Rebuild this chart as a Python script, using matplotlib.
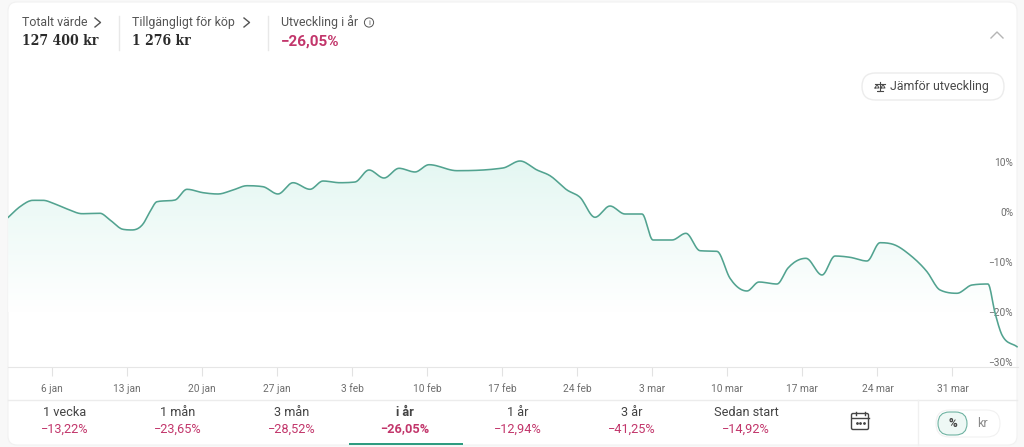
import numpy as np
import matplotlib
matplotlib.use("Agg")
import matplotlib.pyplot as plt
from matplotlib.patches import FancyBboxPatch, Rectangle, Polygon, Circle

plt.rcParams['font.family'] = ['Roboto', 'DejaVu Sans']

# ---- data ----
days = [-4.08,-2.99,-1.77,-0.84,0.28,1.49,2.8,4.48,5.41,6.62,7.46,8.49,9.14,9.79,11.47,12.59,14.09,15.49,
        16.88,18.19,19.68,21.08,22.48,24.07,25.28,26.87,28.26,29.57,30.97,32.37,33.86,35.17,37.78,42.07,
        43.66,45.24,46.46,48.04,49.25,50.65,52.05,53.45,55.04,56.06,57.84,59.14,60.45,62.03,63.25,64.83,
        65.95,67.63,68.66,70.34,71.83,73.04,74.44,76.03,77.24,78.45,80.04,81.62,82.84,84.42,85.82,87.31,
        87.97,88.62,90.02]
values = [-1.06,1.06,2.34,2.34,1.6,0.54,-0.34,-0.26,-1.6,-3.47,-3.6,-2.4,0.06,2.06,2.4,4.55,3.87,3.61,
          4.41,5.27,5.07,3.61,5.87,4.55,6.21,5.87,6.01,8.42,6.81,8.76,8.02,9.48,8.28,8.82,
          10.22,8.42,7.27,4.41,2.95,-1.06,1.2,-0.4,-0.4,-5.61,-5.61,-4.27,-7.76,-7.88,-13.29,-15.83,
          -14.03,-14.43,-11.22,-9.28,-12.63,-8.82,-9.08,-9.82,-6.15,-6.47,-8.62,-11.96,-15.63,-16.29,-14.63,-14.43,
          -20.24,-24.65,-27.0]
x_tick_pos = [0,7,14,21,28,35,42,49,56,63,70,77,84]
x_tick_labels = ['6 jan','13 jan','20 jan','27 jan','3 feb','10 feb','17 feb','24 feb','3 mar','10 mar','17 mar','24 mar','31 mar']
y_tick_pos = [10,0,-10,-20,-30]
y_tick_labels = ['10%','0%','−10%','−20%','−30%']
tab_names = ['1 vecka','1 mån','3 mån','i år','1 år','3 år','Sedan start']
tab_values = ['−13,22%','−23,65%','−28,52%','−26,05%','−12,94%','−41,25%','−14,92%']
total_value = '127 400 kr'
available = '1 276 kr'
ytd = '−26,05%'

GREEN = '#52A390'
RED = '#C2366B'
TXT = '#3c3c3c'
GREY = '#6e6e6e'

def smooth(x, y, n=12):
    """Cubic Hermite drawing curve through the read points."""
    x = np.asarray(x, float); y = np.asarray(y, float)
    h = np.diff(x); s = np.diff(y) / h
    m = np.zeros_like(x)
    m[0], m[-1] = s[0], s[-1]
    for i in range(1, len(x) - 1):
        if s[i-1] * s[i] > 0:
            w = (h[i] * s[i-1] + h[i-1] * s[i]) / (h[i-1] + h[i])
            m[i] = np.sign(w) * min(abs(w), 2.5 * min(abs(s[i-1]), abs(s[i])))
    xs, ys = [], []
    for i in range(len(h)):
        t = np.linspace(0, 1, n, endpoint=False)
        a = (2*t**3 - 3*t**2 + 1); b = (t**3 - 2*t**2 + t); c = (-2*t**3 + 3*t**2); d = (t**3 - t**2)
        xs.append(x[i] + t*h[i])
        ys.append(a*y[i] + b*h[i]*m[i] + c*y[i+1] + d*h[i]*m[i+1])
    xs.append(x[-1:]); ys.append(y[-1:])
    return np.concatenate(xs), np.concatenate(ys)

fig = plt.figure(figsize=(10.24, 4.47), dpi=100, facecolor='#f8f8f8')

# page chrome in pixel coordinates
bg = fig.add_axes([0, 0, 1, 1], zorder=0)
bg.set_xlim(0, 1024); bg.set_ylim(447, 0); bg.axis('off')
bg.add_patch(FancyBboxPatch((8, 2), 1009, 443, boxstyle='round,pad=0,rounding_size=9', fc='white', ec='#f1f1f1', lw=0.8))

def T(x, y, s, size=9.2, color=TXT, ha='left', weight='normal', **kw):
    bg.text(x, y, s, fontsize=size, color=color, ha=ha, va='center', fontweight=weight, **kw)

# header
T(22, 22.5, 'Totalt värde', size=8.9, color='#555555')
T(132, 22.5, 'Tillgängligt för köp', size=8.9, color='#555555')
T(281, 22.5, 'Utveckling i år', size=8.9, color='#555555')
T(22, 41, total_value, size=10, weight='bold', color='#2b2b2b', family='DejaVu Serif', stretch='condensed')
T(132, 41, available, size=10, weight='bold', color='#2b2b2b', family='DejaVu Serif', stretch='condensed')
T(281, 41.5, ytd, size=11, weight='bold', color=RED)
for cx in (95, 244):
    bg.plot([cx, cx+5.5, cx], [18, 22.5, 27], color='#555555', lw=1)
bg.plot([118.5, 118.5], [16, 50], color='#e8e8e8', lw=1)
bg.plot([267.5, 267.5], [16, 50], color='#e8e8e8', lw=1)
bg.add_patch(Circle((369, 22.5), 4.6, fc='none', ec='#555555', lw=0.7))
bg.text(369, 22.7, 'i', fontsize=5.5, color='#555555', ha='center', va='center')
bg.plot([991, 997, 1003], [38, 32, 38], color='#b5b5b5', lw=1)

# compare button
bg.add_patch(FancyBboxPatch((862, 73), 142, 27, boxstyle='round,pad=0,rounding_size=13.5', fc='white', ec='#ececec', lw=1))
T(890, 86.5, 'Jämför utveckling', size=8.95, color='#4a4a4a')
bg.plot([875, 885], [84, 84], color='#4a4a4a', lw=0.8)
bg.plot([880, 880, 877, 883], [82, 91, 91, 91], color='#4a4a4a', lw=0.8)
bg.plot([875, 877, 879, 875], [88, 84.5, 88, 88], color='#4a4a4a', lw=0.7)
bg.plot([881, 883, 885, 881], [88, 84.5, 88, 88], color='#4a4a4a', lw=0.7)

# bottom tabs
bg.plot([8, 1017], [399.5, 399.5], color='#ececec', lw=1)
tab_x = [65, 178, 292, 405, 518, 632, 746]
for i, (cx, n, v) in enumerate(zip(tab_x, tab_names, tab_values)):
    sel = n == 'i år'
    T(cx, 413, n, size=9.2, ha='center', color='#444444', weight='bold' if sel else 'normal')
    T(cx, 429, v, size=9.2, ha='center', color=RED, weight='bold' if sel else 'normal')
bg.add_patch(Rectangle((349, 443), 114, 2.2, fc='#2E9C80', ec='none'))

# calendar icon
bg.add_patch(FancyBboxPatch((851.5, 413.5), 17, 16, boxstyle='round,pad=0,rounding_size=1.5', fc='none', ec='#444444', lw=1))
bg.plot([851.5, 868.5], [417.5, 417.5], color='#444444', lw=1)
bg.plot([855.5, 855.5], [412, 415], color='#444444', lw=1)
bg.plot([864.5, 864.5], [412, 415], color='#444444', lw=1)
bg.plot([856.5, 860, 863.5], [423, 423, 423], ls='none', marker='o', ms=1.0, color='#444444')

# toggle
bg.plot([917.5, 917.5], [400, 445], color='#f0f0f0', lw=1)
bg.add_patch(FancyBboxPatch((936, 410), 64, 27, boxstyle='round,pad=0,rounding_size=13.5', fc='white', ec='#f1f1f1', lw=0.8))
bg.add_patch(FancyBboxPatch((938, 412), 29, 23, boxstyle='round,pad=0,rounding_size=11.5', fc='#EEF8F5', ec='#6FB3A2', lw=0.8))
T(952.5, 423.5, '%', size=8.6, ha='center', weight='bold', color='#444444')
T(982, 423.5, 'kr', size=9, ha='center', color='#8a8a8a')

# chart
px_l, px_r, px_t, px_b = 8.0, 1018.0, 70.0, 367.0
ax = fig.add_axes([px_l/1024, 1 - px_b/447, (px_r-px_l)/1024, (px_b-px_t)/447], zorder=2)
ax.patch.set_alpha(0)
ax.set_xlim((px_l-52)/10.72, (px_r-52)/10.72)
ax.set_ylim((212-px_b)/4.99, (212-px_t)/4.99)

sx, sy = smooth(days, values)
top_col = np.array(matplotlib.colors.to_rgb('#E4F7F2'))
white = np.ones(3)
g = np.linspace(0, 1, 256)[:, None, None]
grad = top_col[None, None, :] * (1 - g) + white[None, None, :] * g
y_grad_top, y_grad_bot = 10.5, -20
im = ax.imshow(grad, extent=[ax.get_xlim()[0], ax.get_xlim()[1], y_grad_bot, y_grad_top], origin='upper',
               aspect='auto', zorder=1, interpolation='bilinear')
ylim0 = ax.get_ylim()[0]
poly = Polygon(np.column_stack([np.r_[sx, sx[-1], sx[0]], np.r_[sy, ylim0, ylim0]]), closed=True,
               transform=ax.transData, fc='none', ec='none')
ax.add_patch(poly)
im.set_clip_path(poly)
ax.set_xlim((px_l-52)/10.72, (px_r-52)/10.72)
ax.set_ylim((212-px_b)/4.99, (212-px_t)/4.99)
ax.plot(sx, sy, color=GREEN, lw=1.15, zorder=3, solid_joinstyle='round')

for s in ('top', 'left', 'right'):
    ax.spines[s].set_visible(False)
ax.spines['bottom'].set_color('#e6e6e6')
ax.spines['bottom'].set_linewidth(0.8)
ax.set_xticks(x_tick_pos, x_tick_labels)
ax.tick_params(axis='x', direction='out', length=6.5, width=0.8, color='#e2e2e2', pad=6, labelsize=7.3, labelcolor=GREY)
ax.yaxis.tick_right()
ax.set_yticks(y_tick_pos, y_tick_labels)
ax.tick_params(axis='y', length=0, pad=-3.5, labelsize=7.3, labelcolor=GREY)
for lab in ax.get_yticklabels():
    lab.set_ha('right')
    lab.set_zorder(5)

fig.savefig('out.png', dpi=100, facecolor=fig.get_facecolor())
